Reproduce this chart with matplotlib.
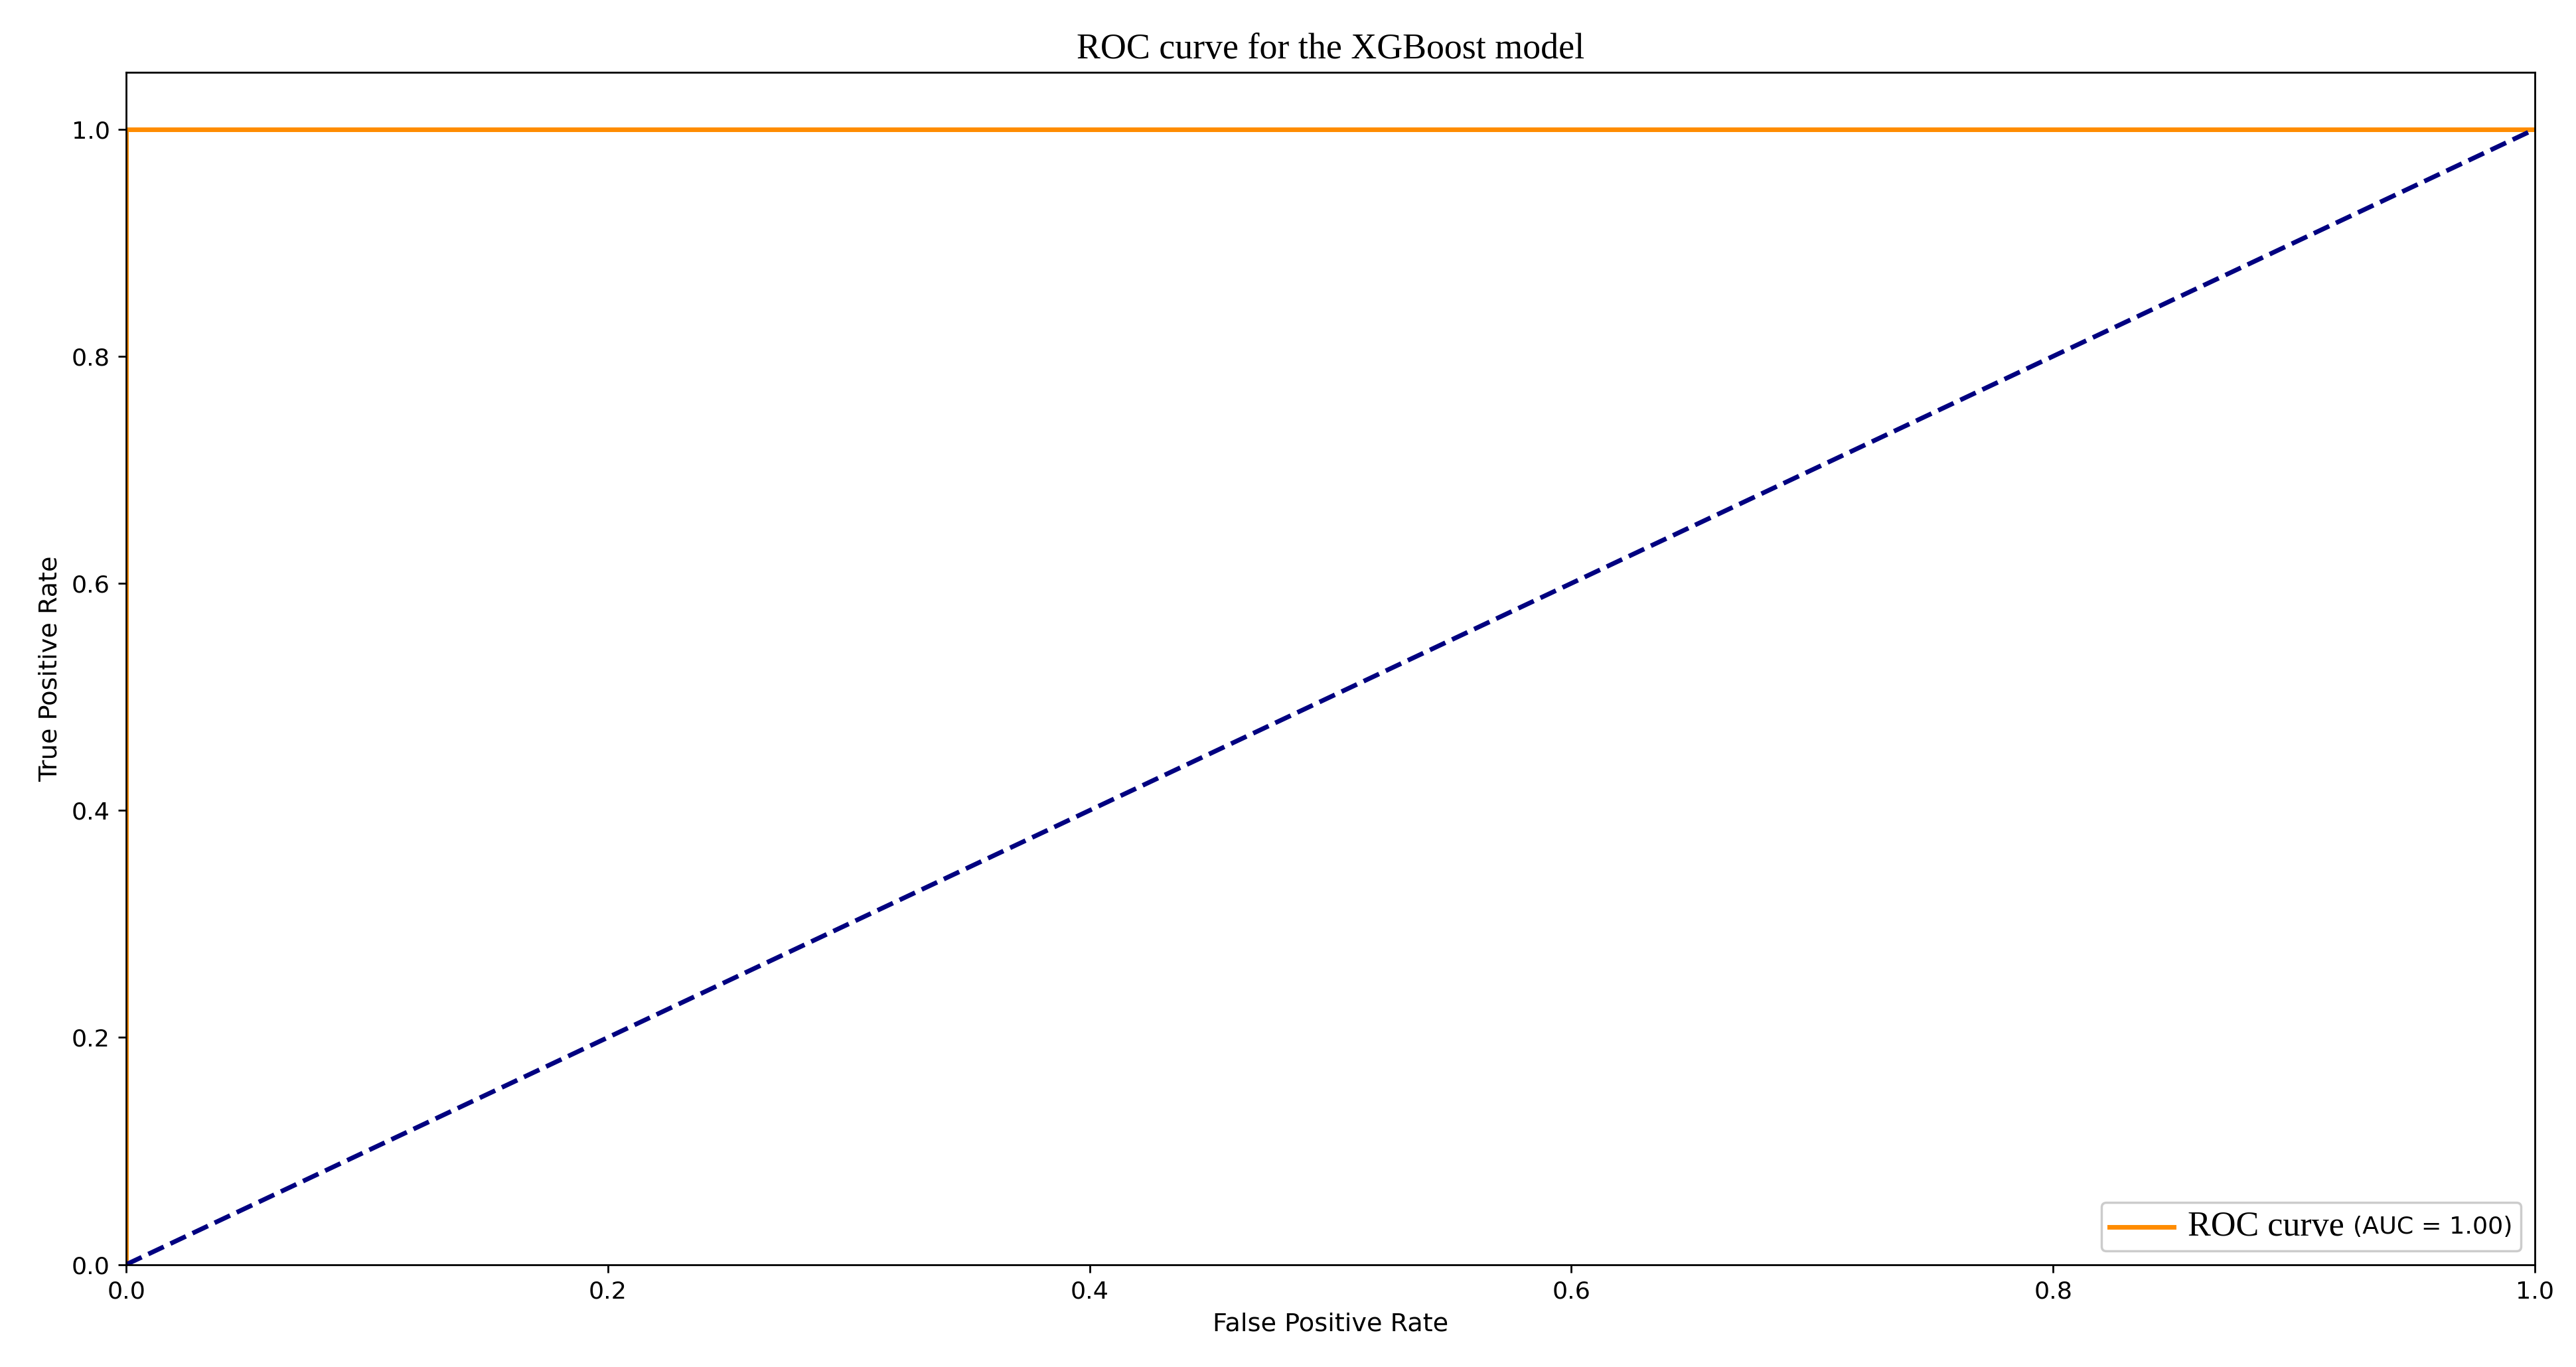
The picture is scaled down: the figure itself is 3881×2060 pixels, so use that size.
import matplotlib
matplotlib.use("Agg")
import matplotlib.pyplot as plt
from matplotlib.offsetbox import AnchoredOffsetbox, HPacker, TextArea, DrawingArea
from matplotlib.lines import Line2D

fpr = [0.0, 0.0, 1.0]
tpr = [0.0, 1.0, 1.0]
diag_x = [0.0, 1.0]
diag_y = [0.0, 1.0]
auc_val = 1.00

fig = plt.figure(figsize=(15.524, 8.24), dpi=250)
ax = fig.add_axes([0.049, 0.075, 0.935, 0.872])
ax.plot(fpr, tpr, color="darkorange", lw=2)
ax.plot(diag_x, diag_y, color="navy", lw=2, linestyle="--")
ax.set_xlim(0.0, 1.0)
ax.set_ylim(0.0, 1.05)
ax.set_xlabel("False Positive Rate", fontsize=11)
ax.set_ylabel("True Positive Rate", fontsize=11)
ax.tick_params(labelsize=10.5)
ax.set_title("ROC curve for the XGBoost model", family="Liberation Serif", fontsize=15.5)

da = DrawingArea(30, 10, 0, 0)
da.add_artist(Line2D([0, 28], [5, 5], color="darkorange", lw=2))
t1 = TextArea("ROC curve", textprops=dict(family="Liberation Serif", fontsize=15))
t2 = TextArea(f"(AUC = {auc_val:.2f})", textprops=dict(fontsize=10.5))
box = HPacker(children=[da, t1, t2], align="center", pad=0, sep=4)
anch = AnchoredOffsetbox(loc="lower right", child=box, pad=0.35, borderpad=0.6, frameon=True)
anch.patch.set_edgecolor("0.8")
anch.patch.set_boxstyle("round,pad=0,rounding_size=0.2")
ax.add_artist(anch)

fig.savefig("out.png", dpi=250)
